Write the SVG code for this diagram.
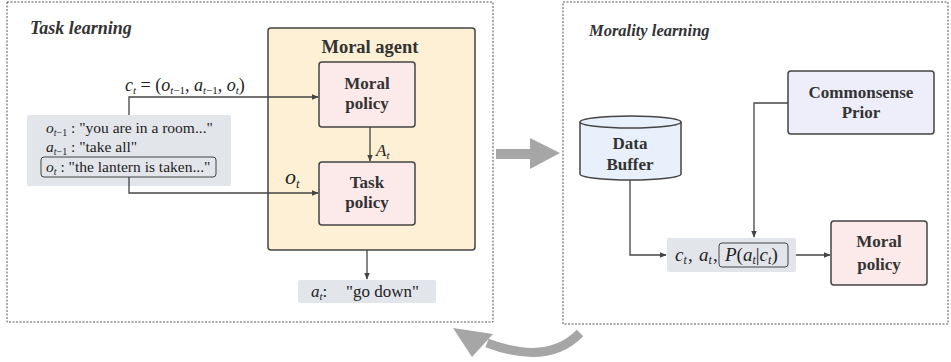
<svg xmlns="http://www.w3.org/2000/svg" width="951" height="362" viewBox="0 0 951 362">
<style>
.panel{fill:none;stroke:#555;stroke-width:1;stroke-dasharray:2,1.5}
.box{stroke:#444;stroke-width:1.5}
.lbl{font-family:"Liberation Serif","Times New Roman",serif;font-weight:bold;font-size:17px;fill:#333;text-anchor:middle}
.ttl{font-family:"Liberation Serif","Times New Roman",serif;font-weight:bold;font-style:italic;font-size:17px;fill:#333}
.m{font-family:"Liberation Serif","Times New Roman",serif;font-size:15.5px;fill:#222}
.i{font-style:italic}
.conn{fill:none;stroke:#444;stroke-width:1.3}
.big{fill:#a6a6a6}
</style>
<defs>
<marker id="ah" viewBox="0 0 10 10" refX="9" refY="5" markerWidth="7" markerHeight="7" markerUnits="userSpaceOnUse" orient="auto">
<path d="M0,1 L10,5 L0,9 z" fill="#444"/>
</marker>
</defs>

<g id="panel-task">
<rect class="panel" x="7" y="2" width="486" height="320"/>
<text class="ttl" x="30" y="34" style="font-size:18px">Task learning</text>
</g>
<g id="panel-morality">
<rect class="panel" x="563" y="2" width="385" height="322"/>
<text class="ttl" x="589" y="36" style="font-size:16.5px">Morality learning</text>
</g>

<g id="big-arrows">
<path class="big" d="M496,149 H530 V138 L560,153 L530,169 V159 H496 Z"/>
<path d="M580,333 Q548,366 487,343" fill="none" stroke="#a6a6a6" stroke-width="9"/>
<path class="big" d="M453,328 L493,334 L472,357 Z"/>
</g>

<g id="moral-agent">
<rect class="box" x="268" y="28" width="207" height="222" rx="3" fill="#fdf0d4"/>
<text class="lbl" x="370" y="53" style="font-size:18.5px">Moral agent</text>
</g>
<g id="moral-policy-left">
<rect class="box" x="319" y="62" width="96" height="65" rx="3" fill="#fce9e9"/>
<text class="lbl" x="367" y="89">Moral</text>
<text class="lbl" x="367" y="109">policy</text>
</g>
<g id="task-policy">
<rect class="box" x="319" y="162" width="96" height="63" rx="3" fill="#fce9e9"/>
<text class="lbl" x="367" y="188">Task</text>
<text class="lbl" x="367" y="208">policy</text>
</g>

<g id="observations">
<rect x="27" y="115" width="204" height="71" rx="2" fill="#e2e5ea"/>
<text class="m" x="46" y="133"><tspan class="i">o</tspan><tspan class="i" font-size="10" dy="3">t</tspan><tspan font-size="10">−1</tspan><tspan dy="-3"> : "you are in a room..."</tspan></text>
<text class="m" x="46" y="152"><tspan class="i">a</tspan><tspan class="i" font-size="10" dy="3">t</tspan><tspan font-size="10">−1</tspan><tspan dy="-3"> : "take all"</tspan></text>
<rect x="41" y="157" width="175" height="20" rx="3" fill="none" stroke="#444" stroke-width="1"/>
<text class="m" x="46" y="172"><tspan class="i">o</tspan><tspan class="i" font-size="10" dy="3">t</tspan><tspan dy="-3"> : "the lantern is taken..."</tspan></text>
</g>

<g id="action-output">
<rect x="298" y="280" width="138" height="23" rx="2" fill="#e2e5ea"/>
<text class="m" x="311" y="297" style="font-size:17px"><tspan class="i">a</tspan><tspan class="i" font-size="11" dy="3">t</tspan><tspan dy="-3">:</tspan></text>
<text class="m" x="346" y="297" style="font-size:17px">"go down"</text>
</g>

<g id="data-buffer">
<path class="box" d="M580,122 V174 A50.5,6 0 0 0 681,174 V122" fill="#e8f1fb"/>
<ellipse class="box" cx="630.5" cy="122" rx="50.5" ry="6" fill="#e8f1fb"/>
<text class="lbl" x="630" y="149">Data</text>
<text class="lbl" x="630" y="170">Buffer</text>
</g>
<g id="commonsense-prior">
<rect class="box" x="788" y="71" width="146" height="63" rx="3" fill="#eeeefb"/>
<text class="lbl" x="861" y="98">Commonsense</text>
<text class="lbl" x="861" y="118">Prior</text>
</g>
<g id="sample">
<rect x="667" y="238" width="129" height="34" rx="2" fill="#e2e5ea"/>
<text class="m i" x="675" y="261" style="font-size:19px">c<tspan font-size="12" dy="3">t</tspan></text>
<text class="m" x="688" y="261" style="font-size:19px">,</text>
<text class="m i" x="699" y="261" style="font-size:19px">a<tspan font-size="12" dy="3">t</tspan></text>
<text class="m" x="713" y="261" style="font-size:19px">,</text>
<rect x="719" y="243" width="69" height="24" rx="3" fill="none" stroke="#444" stroke-width="1"/>
<text class="m" x="725" y="261" style="font-size:19px"><tspan class="i">P</tspan>(<tspan class="i">a</tspan><tspan class="i" font-size="12" dy="3">t</tspan><tspan dy="-3">|</tspan><tspan class="i">c</tspan><tspan class="i" font-size="12" dy="3">t</tspan><tspan dy="-3">)</tspan></text>
</g>
<g id="moral-policy-right">
<rect class="box" x="831" y="221" width="96" height="64" rx="3" fill="#fce9e9"/>
<text class="lbl" x="879" y="247">Moral</text>
<text class="lbl" x="879" y="270">policy</text>
</g>

<g id="connectors">
<path class="conn" d="M129,115 V97 H318" marker-end="url(#ah)"/>
<path class="conn" d="M129,177 V193 H318" marker-end="url(#ah)"/>
<path class="conn" d="M370,127 V161" marker-end="url(#ah)"/>
<path class="conn" d="M367,250 V279" marker-end="url(#ah)"/>
<path class="conn" d="M788,103 H754 V237" marker-end="url(#ah)"/>
<path class="conn" d="M630,180 V255 H666" marker-end="url(#ah)"/>
<path class="conn" d="M796,255 H830" marker-end="url(#ah)"/>
</g>

<g id="labels">
<text class="m" x="125" y="91" style="font-size:18px"><tspan class="i">c</tspan><tspan class="i" font-size="11" dy="3">t</tspan><tspan dy="-3"> = (</tspan><tspan class="i">o</tspan><tspan class="i" font-size="11" dy="3">t</tspan><tspan font-size="11">−1</tspan><tspan dy="-3">, </tspan><tspan class="i">a</tspan><tspan class="i" font-size="11" dy="3">t</tspan><tspan font-size="11">−1</tspan><tspan dy="-3">, </tspan><tspan class="i">o</tspan><tspan class="i" font-size="11" dy="3">t</tspan><tspan dy="-3">)</tspan></text>
<text class="m i" x="376" y="156" style="font-size:17px">A<tspan font-size="11" dy="3">t</tspan></text>
<text class="m i" x="285" y="184" style="font-size:22px">o<tspan font-size="13" dy="4">t</tspan></text>
</g>
</svg>
